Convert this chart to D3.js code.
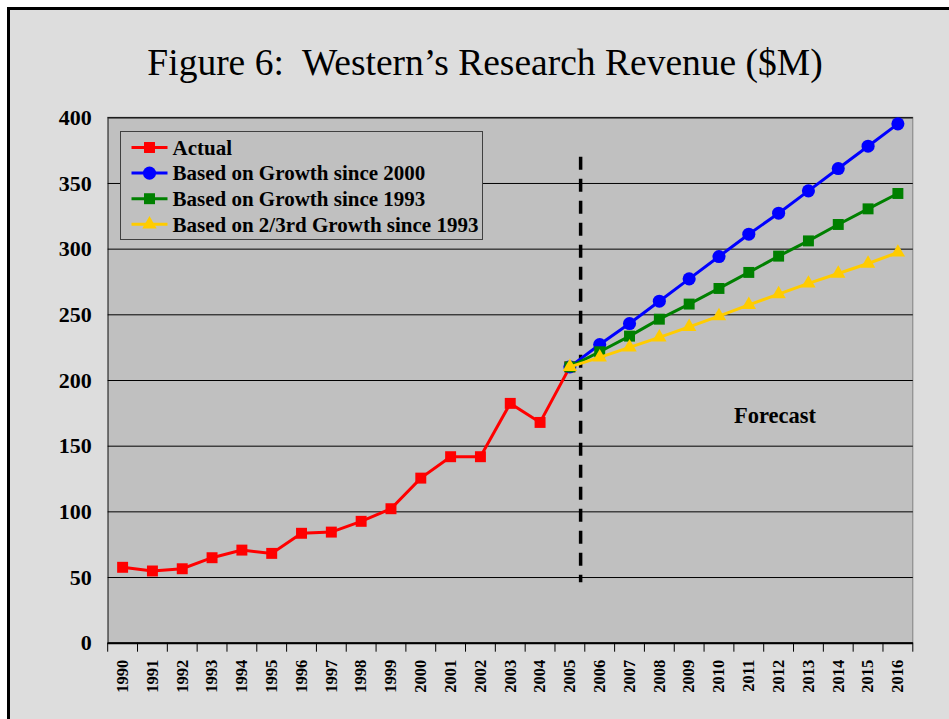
<!DOCTYPE html>
<html>
<head>
<meta charset="utf-8">
<script src="https://cdn.jsdelivr.net/npm/d3@7"></script>
<style>
  body { margin: 0; background: #fff; }
  svg { display: block; font-family: "Liberation Serif", "Times New Roman", serif; }
</style>
</head>
<body>
<svg width="949" height="719"></svg>
<script>
const years = d3.range(1990, 2017).map(String);
const actualYears = years.slice(0, 16);
const forecastYears = years.slice(15);

const actual = [57.4, 54.6, 56.3, 64.7, 70.5, 68, 83.3, 84.2, 92.4, 102, 125.3, 141.6, 141.6, 182.2, 167.7, 210];
const growth2000 = [210, 227, 243, 260, 277, 294, 311, 327, 344, 361, 378, 395];
const growth1993 = [210, 221.5, 233.4, 246.3, 257.8, 269.7, 281.9, 294.3, 305.9, 318.4, 330.3, 342];
const growth1993TwoThirds = [210, 217.2, 224.8, 232.4, 240.5, 248.6, 257.2, 265.4, 273.5, 281.1, 288.7, 297.1];
const yTicks = [0, 50, 100, 150, 200, 250, 300, 350, 400];

const series = [
  { name: 'Actual', color: '#ff0000', symbol: d3.symbolSquare, size: 120, years: actualYears, values: actual },
  { name: 'Based on Growth since 2000', color: '#0000ff', symbol: d3.symbolCircle, size: 135, years: forecastYears, values: growth2000 },
  { name: 'Based on Growth since 1993', color: '#008000', symbol: d3.symbolSquare, size: 120, years: forecastYears, values: growth1993 },
  { name: 'Based on 2/3rd Growth since 1993', color: '#ffcc00', symbol: d3.symbolTriangle, size: 90, years: forecastYears, values: growth1993TwoThirds },
];

const svg = d3.select('svg');
const plotLeft = 107.7, plotRight = 912.8, plotTop = 117.3, plotBottom = 642.7;

// outer frame
svg.append('rect')
  .attr('x', 8.5).attr('y', 8.5)
  .attr('width', 960).attr('height', 730)
  .attr('fill', '#dddddd')
  .attr('stroke', '#000').attr('stroke-width', 3);

svg.append('text')
  .attr('x', 485).attr('y', 75)
  .attr('text-anchor', 'middle')
  .attr('font-size', 37.5)
  .attr('xml:space', 'preserve')
  .text('Figure 6:  Western\u2019s Research Revenue ($M)');

const x = d3.scaleBand().domain(years).range([plotLeft, plotRight]).padding(0);
const y = d3.scaleLinear().domain([0, 400]).range([plotBottom, plotTop]);

svg.append('rect')
  .attr('x', plotLeft).attr('y', plotTop)
  .attr('width', plotRight - plotLeft).attr('height', plotBottom - plotTop)
  .attr('fill', '#c0c0c0')
  .attr('stroke', '#808080').attr('stroke-width', 1);

// gridlines + y labels
const yAxis = svg.append('g')
  .attr('transform', `translate(${plotLeft},0)`)
  .call(d3.axisLeft(y).tickValues(yTicks).tickSize(-(plotRight - plotLeft)).tickPadding(16));
yAxis.select('.domain').attr('stroke', '#606060').attr('stroke-width', 1.5);
yAxis.selectAll('.tick line').attr('stroke', '#000').attr('stroke-width', 1);
yAxis.selectAll('.tick text')
  .attr('font-family', '"Liberation Serif", serif')
  .attr('font-weight', 'bold')
  .attr('font-size', 22)
  .attr('fill', '#000');

// x axis
const xAxis = svg.append('g')
  .attr('transform', `translate(0,${plotBottom})`)
  .call(d3.axisBottom(x).tickSize(0).tickPadding(0));
xAxis.select('.domain').remove();
xAxis.selectAll('.tick text')
  .attr('font-family', '"Liberation Serif", serif')
  .attr('font-weight', 'bold')
  .attr('font-size', 16.5)
  .attr('fill', '#000')
  .attr('text-anchor', 'end')
  .attr('transform', 'translate(0,17) rotate(-90)')
  .attr('dx', 0).attr('dy', '0.32em')
  .attr('y', 0).attr('x', 0);

svg.append('g')
  .selectAll('line')
  .data(d3.range(years.length + 1))
  .join('line')
  .attr('x1', i => plotLeft + i * x.bandwidth())
  .attr('x2', i => plotLeft + i * x.bandwidth())
  .attr('y1', plotBottom).attr('y2', plotBottom + 9)
  .attr('stroke', '#000');

svg.append('line')
  .attr('x1', plotLeft).attr('x2', plotRight)
  .attr('y1', plotBottom + 0.5).attr('y2', plotBottom + 0.5)
  .attr('stroke', '#000').attr('stroke-width', 2);

// forecast divider
const divX = x('2005') + x.bandwidth() * 0.86;
svg.append('line')
  .attr('x1', divX).attr('x2', divX)
  .attr('y1', y(370)).attr('y2', y(46))
  .attr('stroke', '#000').attr('stroke-width', 3.5)
  .attr('stroke-dasharray', '13,9');

svg.append('text')
  .attr('x', 775).attr('y', 423)
  .attr('text-anchor', 'middle')
  .attr('font-weight', 'bold')
  .attr('font-size', 22.5)
  .text('Forecast');

const line = d3.line()
  .x(d => x(d[0]) + x.bandwidth() / 2)
  .y(d => y(d[1]));

series.forEach((s) => {
  const pts = s.years.map((yr, i) => [yr, s.values[i]]);
  const g = svg.append('g');
  g.append('path')
    .attr('d', line(pts))
    .attr('fill', 'none')
    .attr('stroke', s.color)
    .attr('stroke-width', 3);
  g.selectAll('path.m')
    .data(pts)
    .join('path')
    .attr('class', 'm')
    .attr('d', d3.symbol(s.symbol, s.size))
    .attr('transform', d => `translate(${x(d[0]) + x.bandwidth() / 2},${y(d[1])})`)
    .attr('fill', s.color);
});

// legend
const legend = svg.append('g').attr('transform', 'translate(120.5,131.5)');
legend.append('rect')
  .attr('width', 362).attr('height', 108)
  .attr('fill', '#c0c0c0')
  .attr('stroke', '#404040').attr('stroke-width', 1);

const item = legend.selectAll('g.item')
  .data(series)
  .join('g')
  .attr('class', 'item')
  .attr('transform', (d, i) => `translate(0,${16 + i * 25.6})`);
item.append('line')
  .attr('x1', 11).attr('x2', 47)
  .attr('stroke', d => d.color).attr('stroke-width', 3);
item.append('path')
  .attr('d', d => d3.symbol(d.symbol, d.size)())
  .attr('transform', 'translate(29,0)')
  .attr('fill', d => d.color);
item.append('text')
  .attr('x', 52).attr('y', 0).attr('dy', '0.35em')
  .attr('font-weight', 'bold')
  .attr('font-size', 21)
  .text(d => d.name);
</script>
</body>
</html>
